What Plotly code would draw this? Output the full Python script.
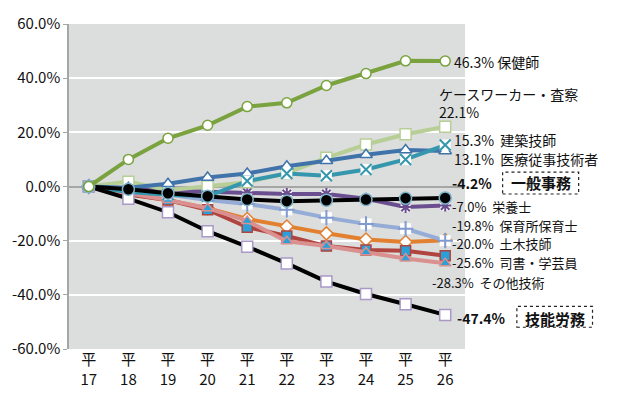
import plotly.graph_objects as go

years = ["平<br>17", "平<br>18", "平<br>19", "平<br>20", "平<br>21",
         "平<br>22", "平<br>23", "平<br>24", "平<br>25", "平<br>26"]

hokenshi = [0, 10.0, 17.8, 22.6, 29.5, 30.9, 37.3, 41.7, 46.4, 46.3]
casework = [0, 1.8, -1.4, 0.1, 1.6, 5.0, 10.6, 15.5, 19.3, 22.1]
kenchiku = [0, -2.0, -3.0, -3.6, 2.0, 4.8, 4.0, 6.3, 10.0, 15.3]
iryo = [0, -0.5, 1.0, 3.3, 4.8, 7.5, 9.5, 11.7, 13.5, 13.1]
ippan = [0, -1.0, -2.5, -3.6, -4.8, -5.4, -5.1, -4.8, -4.3, -4.2]
eiyo = [0, -1.0, -1.5, -1.9, -2.2, -2.8, -2.8, -4.5, -7.6, -7.0]
hoiku = [0, -2.8, -5.1, -8.0, -12.0, -14.8, -17.3, -19.6, -20.5, -19.8]
doboku = [0, -1.5, -3.0, -5.0, -6.5, -8.6, -11.5, -13.8, -15.6, -20.0]
shisho = [0, -3.0, -5.0, -8.6, -15.0, -18.3, -22.0, -23.4, -23.7, -25.6]
sonota = [0, -2.5, -5.0, -8.0, -12.7, -20.2, -22.0, -24.3, -26.6, -28.3]
ginou = [0, -4.5, -9.5, -16.5, -22.2, -28.4, -35.1, -39.7, -43.5, -47.4]

y_ticks = [60, 40, 20, 0, -20, -40, -60]

FONT = "Noto Sans CJK JP, Noto Sans, sans-serif"

# (values, line color, marker symbol, marker fill, marker line color, marker size, white backing)
series = [
    (hoiku, "#e2802f", "diamond", "white", "#e2802f", 10, False),
    (doboku, "#95acd6", "cross-thin-open", "#7f9bcf", "#7f9bcf", 11, True),
    (shisho, "#b0443f", "square", "#2a9fd8", "#b0443f", 10, False),
    (sonota, "#d9908f", "triangle-up", "#2a9fd8", "#d9908f", 10, False),
    (eiyo, "#6b4e8f", "asterisk-open", "#6b4e8f", "#6b4e8f", 10, True),
    (casework, "#b7cf96", "square", "white", "#b7cf96", 11, False),
    (iryo, "#4173ab", "triangle-up", "white", "#4173ab", 11, False),
    (kenchiku, "#3597ad", "x-thin-open", "#3597ad", "#3597ad", 11, True),
    (ginou, "#000000", "square", "white", "#a899c6", 11, False),
    (ippan, "#000000", "circle", "#000000", "#7fb3cc", 12, False),
    (hokenshi, "#7aa33f", "circle", "white", "#7aa33f", 10, False),
]

fig = go.Figure()
for vals, lc, sym, fc, mlc, ms, backing in series:
    fig.add_trace(go.Scatter(
        x=years, y=vals, mode="lines",
        line=dict(color=lc, width=4),
        showlegend=False, hoverinfo="skip"))
    if backing:
        fig.add_trace(go.Scatter(
            x=years, y=vals, mode="markers",
            marker=dict(symbol="square", size=ms, color="white",
                        line=dict(width=0)),
            showlegend=False, hoverinfo="skip"))
    fig.add_trace(go.Scatter(
        x=years, y=vals, mode="markers",
        marker=dict(symbol=sym, size=ms, color=fc,
                    line=dict(color=mlc, width=2 if backing else 1.5)),
        showlegend=False, hoverinfo="skip"))

# right-side labels: (text, label y position in axis units, x paper, font size)
labels = [
    ("46.3% 保健師", 46.0, 0.970, 14),
    ("ケースワーカー・査察<br>22.1%", 30.9, 0.933, 14),
    ("15.3%  建築技師", 17.1, 0.970, 14),
    ("13.1%  医療従事技術者", 10.1, 0.970, 14),
    ("<b>-4.2%</b>", 1.4, 0.965, 14),
    ("-7.0%  栄養士", -7.3, 0.965, 13),
    ("-19.8%  保育所保育士", -14.3, 0.965, 13),
    ("-20.0%  土木技師", -20.9, 0.965, 13),
    ("-25.6%  司書・学芸員", -28.1, 0.965, 13),
    ("-28.3%  その他技術", -35.6, 0.915, 13),
    ("<b>-47.4%</b>", -48.6, 0.977, 14),
]
for text, ly, lx, fs in labels:
    fig.add_annotation(text=text, x=lx, y=ly, xref="paper", yref="y",
                       xanchor="left", yanchor="middle", showarrow=False,
                       align="left", borderpad=0,
                       font=dict(family=FONT, size=fs, color="#111111"))

boxed = [("<b>一般事務</b>", 1.4, 1.095, 1.287, 0.477, 0.544),
         ("<b>技能労務</b>", -48.6, 1.131, 1.322, 0.067, 0.131)]
for text, ly, x0, x1, y0, y1 in boxed:
    fig.add_annotation(text=text, x=(x0 + x1) / 2, y=ly, xref="paper", yref="y",
                       xanchor="center", yanchor="middle", showarrow=False,
                       borderpad=0,
                       font=dict(family=FONT, size=15, color="#111111"))
    fig.add_shape(type="rect", xref="paper", yref="paper",
                  x0=x0, x1=x1, y0=y0, y1=y1,
                  line=dict(color="#222222", width=1.2, dash="dot"))

fig.update_layout(
    width=622, height=401,
    margin=dict(l=63, r=157, t=15, b=42),
    plot_bgcolor="#dcdddd", paper_bgcolor="white",
    font=dict(family=FONT, size=15, color="#111111"),
)
fig.update_xaxes(
    type="category", range=[-0.5, 9.5], showgrid=False, zeroline=False,
    showline=False, ticks="", tickfont=dict(family=FONT, size=15),
)
fig.update_yaxes(
    range=[-60, 60], tickvals=y_ticks,
    ticktext=[f"{v:.1f}%" for v in y_ticks],
    showgrid=True, gridcolor="white", gridwidth=1.5,
    zeroline=True, zerolinecolor="#a6a6a6", zerolinewidth=2,
    showline=True, linecolor="#a6a6a6", linewidth=1.5,
    ticks="outside", ticklen=4, tickcolor="#a6a6a6",
    tickfont=dict(family=FONT, size=15),
)

fig.write_html("out.html")
